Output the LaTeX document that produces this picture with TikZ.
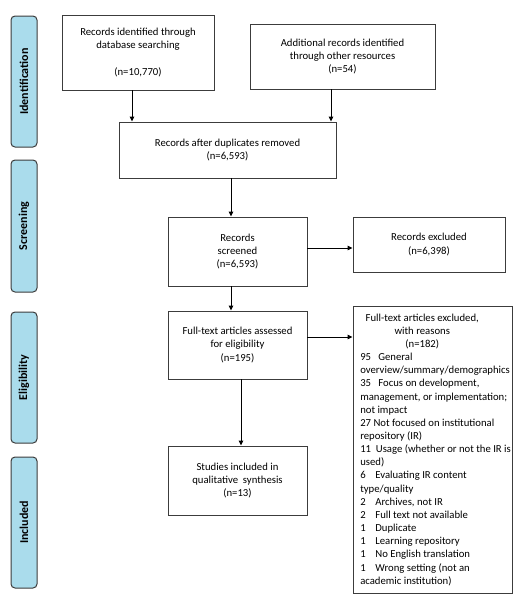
\documentclass[tikz,border=0pt]{standalone}
\usepackage{fontspec}
\setmainfont{Carlito}
\usetikzlibrary{arrows.meta}
\definecolor{phase}{RGB}{170,220,236}
\definecolor{edge}{RGB}{60,60,60}
\tikzset{
  box/.style={draw=edge, line width=0.9pt, align=center, inner sep=2pt,
    font=\fontsize{10.7}{13.2}\selectfont},
  phasebox/.style={draw=edge, line width=1pt, fill=phase, rounded corners=4pt,
    minimum width=26pt},
  phasetext/.style={rotate=90, font=\fontsize{12}{13}\selectfont\bfseries},
  arr/.style={-{Triangle[length=5pt,width=4.5pt]}, line width=0.9pt, black},
}
\begin{document}
\begin{tikzpicture}[x=1pt,y=1pt]
\useasboundingbox (0,0) rectangle (531,-600);
% phase labels
\node[phasebox, minimum height=131pt] (p1) at (24,-81.5) {};
\node[phasetext] (t1) at (p1.center) {Identification};
\node[phasebox, minimum height=132pt] (p2) at (24,-226) {};
\node[phasetext] (t2) at (p2.center) {Screening};
\node[phasebox, minimum height=131pt] (p3) at (24,-377.5) {};
\node[phasetext] (t3) at (p3.center) {Eligibility};
\node[phasebox, minimum height=131pt] (p4) at (24,-522.5) {};
\node[phasetext] (t4) at (p4.center) {Included};
% boxes
\node[box, minimum width=152pt, minimum height=75pt] (A) at (138,-52.5)
  {Records identified through\\database searching\\[13.2pt](n=10,770)};
\node[box, minimum width=185pt, minimum height=65pt] (B) at (342.5,-56.5)
  {Additional records identified\\through other resources\\(n=54)};
\node[box, minimum width=217pt, minimum height=56pt] (C) at (227.5,-150)
  {Records after duplicates removed\\(n=6,593)};
\node[box, minimum width=139pt, minimum height=69pt] (D) at (237.5,-251.5)
  {Records\\screened\\(n=6,593)};
\node[box, minimum width=152pt, minimum height=55pt] (E) at (429,-244.5)
  {Records excluded\\(n=6,398)};
\node[box, minimum width=139pt, minimum height=68pt] (F) at (237.5,-345)
  {Full-text articles assessed\\for eligibility\\(n=195)};
\node[box, minimum width=139pt, minimum height=69pt] (H) at (237.5,-480.5)
  {Studies included in\\qualitative\ \ synthesis\\(n=13)};
\node[box, minimum width=159pt, minimum height=287pt] (G) at (432.5,-449.5) {};
\node[font=\fontsize{10.7}{13.15}\selectfont, align=left, inner sep=0pt, anchor=north west]
  (Gt) at ([xshift=7.5pt,yshift=-8pt]G.north west)
  {\makebox[124pt]{Full-text articles excluded,}\\
   \makebox[124pt]{with reasons}\\
   \makebox[124pt]{(n=182)}\\
   95\ \ \ General\\
   overview/summary/demographics\\
   35\ \ \ Focus on development,\\
   management, or implementation;\\
   not impact\\
   27 Not focused on institutional\\
   repository (IR)\\
   11\ \ Usage (whether or not the IR is\\
   used)\\
   6\ \ \ \ Evaluating IR content\\
   type/quality\\
   2\ \ \ \ Archives, not IR\\
   2\ \ \ \ Full text not available\\
   1\ \ \ \ Duplicate\\
   1\ \ \ \ Learning repository\\
   1\ \ \ \ No English translation\\
   1\ \ \ \ Wrong setting (not an\\
   academic institution)};
% arrows
\draw[arr] ([xshift=-6pt]A.south) -- ([xshift=-6pt]A.south |- C.north);
\draw[arr] ([xshift=-11.5pt]B.south) -- ([xshift=-11.5pt]B.south |- C.north);
\draw[arr] ([xshift=3.5pt]C.south) -- ([xshift=3.5pt]C.south |- D.north);
\draw[arr] ([yshift=3.5pt]D.east) -- ([yshift=3.5pt]D.east -| E.west);
\draw[arr] ([xshift=-6.5pt]D.south) -- ([xshift=-6.5pt]D.south |- F.north);
\draw[arr] ([yshift=8pt]F.east) -- ([yshift=8pt]F.east -| G.west);
\draw[arr] ([xshift=3.5pt]F.south) -- ([xshift=3.5pt]F.south |- H.north);
\end{tikzpicture}
\end{document}
